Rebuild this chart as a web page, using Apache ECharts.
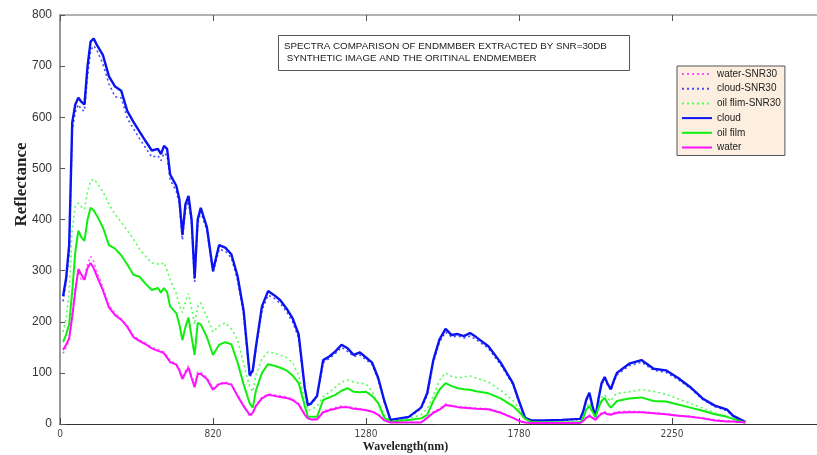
<!DOCTYPE html>
<html>
<head>
<meta charset="utf-8">
<script src="https://cdn.jsdelivr.net/npm/echarts@6/dist/echarts.min.js"></script>
<style>
html,body{margin:0;padding:0;background:#fff;overflow:hidden;}
#c{width:817px;height:455px;}
</style>
</head>
<body>
<div id="c"></div>
<script>
// band index (x) — axis ticks every 50 bands labelled with wavelength
var bands = [1,2,3,4,5,6,7,8,9,10,
11,12,14,16,18,20,22,24,26,28,
30,32,33,34,35,36,38,39,40,41,
42,43,44,45,46,48,50,52,54,56,
58,60,62,63,64,66,68,70,72,74,
76,78,80,81,82,84,86,88,90,92,
94,96,98,100,102,104,106,108,110,114,
118,120,122,124,126,128,130,132,134,136,
140,144,148,150,152,154,158,164,170,171,
172,173,174,175,176,177,178,179,180,181,
182,186,190,194,198,202,206,210,214,218,
220,222,224];

var xTickValues = [0, 50, 100, 150, 200];
var xTickLabels = ['0', '820', '1280', '1780', '2250'];

var cloud = [250,285,350,590,625,638,630,625,700,748,
754,742,722,680,660,652,612,591,572,553,
535,538,528,544,538,488,466,440,370,430,
446,400,285,400,423,385,300,350,345,332,
290,222,95,105,150,230,260,252,242,226,
207,175,70,37,40,55,125,132,142,155,
148,135,140,130,120,90,45,8,10,14,
32,60,125,165,186,174,176,172,178,170,
152,120,80,45,12,7,7,8,10,25,
48,61,35,14,50,80,92,78,68,85,
100,118,125,108,105,90,72,50,36,28,
16,10,4];

var cloudSNR30 = [240,278,335,575,610,625,615,612,680,730,
740,732,705,665,640,638,598,578,558,540,
522,525,515,530,525,478,455,430,360,420,
436,392,278,392,415,378,295,342,338,325,
282,215,92,102,145,222,252,246,236,220,
200,168,66,35,38,52,120,128,138,150,
142,132,135,126,116,86,42,7,9,13,
30,56,120,160,180,170,172,168,172,165,
148,116,77,42,11,6,6,7,9,23,
45,58,33,13,47,77,89,76,66,82,
96,114,121,105,101,87,70,48,34,26,
15,9,3];

var oilFilm = [160,175,195,260,337,378,365,358,400,423,
418,408,385,350,343,330,312,292,288,274,
262,266,257,266,258,230,217,195,164,190,
208,170,135,198,195,170,135,155,160,156,
121,78,40,32,65,100,117,114,110,105,
95,80,35,14,14,14,47,52,57,65,
70,63,62,63,55,41,12,4,6,8,
11,18,45,67,80,74,70,68,67,64,
60,50,35,24,10,4,3,3,3,12,
28,35,24,14,32,45,51,40,32,38,
45,50,52,45,44,38,32,26,19,14,
10,6,3];

var oilFilmSNR30 = [180,205,260,380,428,432,425,420,455,475,
479,472,455,430,410,395,378,362,342,328,
315,313,312,316,300,282,255,232,218,240,
255,225,195,230,237,210,180,192,198,186,
165,118,72,63,95,128,141,139,135,130,
120,95,45,27,28,35,53,62,72,82,
86,82,80,78,64,40,18,6,7,10,
18,30,55,85,100,93,90,92,94,90,
82,66,46,30,12,5,4,4,4,15,
32,41,30,18,40,52,57,50,45,55,
60,63,67,64,58,49,40,31,22,14,
10,6,3];

var water = [145,155,168,210,260,303,292,282,305,315,
305,290,262,228,213,204,190,170,162,156,
148,143,141,138,130,121,116,105,88,100,
110,90,72,98,98,88,67,78,80,77,
55,35,18,22,35,50,57,55,53,51,
47,38,18,11,9,9,23,27,30,33,
33,30,29,27,24,18,7,3,3,3,
3,12,22,28,37,35,33,32,31,30,
29,22,12,6,3,2,2,2,2,6,
12,16,12,8,15,20,22,19,18,20,
22,23,23,21,19,16,14,11,7,5,
5,4,3];

var waterSNR30 = [138,150,165,215,270,298,280,285,312,328,
318,298,268,232,216,206,192,173,164,158,
150,146,143,141,133,124,118,108,92,104,
114,95,75,102,101,91,70,80,82,78,
57,37,14,20,37,52,59,57,55,53,
49,40,20,12,10,10,25,29,32,35,
34,32,30,28,25,19,8,3,3,3,
4,13,24,30,39,36,34,33,32,31,
30,23,13,7,3,2,2,2,2,7,
13,18,13,9,16,22,24,21,20,22,
24,25,24,22,20,17,15,12,8,6,
5,4,3];

function pairs(vals){ return bands.map(function(b,i){ return [b, vals[i]]; }); }

var FONT = 'Liberation Sans, Arial, sans-serif';

function lineSeries(name, vals, color, width, type){
  return {
    name: name, type: 'line', data: pairs(vals),
    showSymbol: false, symbol: 'none', animation: false,
    lineStyle: { color: color, width: width, type: type },
    itemStyle: { color: color }
  };
}

var chart = echarts.init(document.getElementById('c'), null, {renderer: 'canvas'});
chart.setOption({
  animation: false,
  backgroundColor: '#ffffff',
  title: {
    text: 'SPECTRA COMPARISON OF ENDMMBER EXTRACTED BY SNR=30DB\n SYNTHETIC IMAGE AND THE ORITINAL ENDMEMBER',
    left: 278, top: 35,
    padding: [5, 23, 7, 6],
    backgroundColor: '#ffffff',
    borderColor: '#555555', borderWidth: 1,
    textStyle: { fontFamily: FONT, fontSize: 9.8, fontWeight: 'normal', color: '#222', lineHeight: 12 }
  },
  legend: {
    orient: 'vertical', left: 677, top: 66,
    backgroundColor: '#fdefdf', borderColor: '#555555', borderWidth: 1,
    padding: [3, 4, 3, 4],
    itemWidth: 30, itemHeight: 10, itemGap: 4.7,
    itemStyle: { opacity: 0 },
    textStyle: { fontFamily: FONT, fontSize: 10, color: '#222' },
    data: ['water-SNR30', 'cloud-SNR30', 'oil flim-SNR30', 'cloud', 'oil film', 'water']
  },
  grid: { left: 60, right: -8, top: 15, bottom: 31, containLabel: false, outerBoundsMode: 'none' },
  xAxis: [{
    type: 'value', min: 0, max: 250, interval: 50,
    name: 'Wavelength(nm)', nameLocation: 'middle', nameGap: 17, nameMoveOverlap: false,
    nameTextStyle: { fontFamily: 'Liberation Serif, Times New Roman, serif', fontWeight: 'bold', fontSize: 12, color: '#222', padding: [0, 74, 0, 0] },
    axisLine: { show: true, lineStyle: { color: '#333', width: 1 } },
    axisTick: { show: true, inside: true, length: 6, lineStyle: { color: '#444' } },
    axisLabel: {
      fontFamily: 'DejaVu Sans Condensed, DejaVu Sans, sans-serif', fontSize: 10, color: '#444', margin: 5,
      formatter: function(v){ var k = xTickValues.indexOf(v); return k >= 0 ? xTickLabels[k] : ''; }
    },
    splitLine: { show: false }
  }, {
    type: 'value', min: 0, max: 250, interval: 50, position: 'top',
    axisLine: { show: true, lineStyle: { color: '#999', width: 1.5 } },
    axisTick: { show: true, inside: true, length: 6, lineStyle: { color: '#555' } },
    axisLabel: { show: false }, splitLine: { show: false }
  }],
  yAxis: {
    type: 'value', min: 0, max: 800, interval: 100,
    name: 'Reflectance', nameLocation: 'middle', nameGap: 30, nameRotate: 90, nameMoveOverlap: false,
    nameTextStyle: { fontFamily: 'Liberation Serif, Times New Roman, serif', fontWeight: 'bold', fontSize: 17, color: '#222', padding: [0, 0, 0, 70] },
    axisLine: { show: true, lineStyle: { color: '#999', width: 2 } },
    axisTick: { show: true, inside: true, length: 5, lineStyle: { color: '#555' } },
    axisLabel: { fontFamily: FONT, fontSize: 12, color: '#333', margin: 8 },
    splitLine: { show: false }
  },
  series: [
    lineSeries('water-SNR30', waterSNR30, '#ff55ff', 1.6, [2, 3]),
    lineSeries('cloud-SNR30', cloudSNR30, '#4a4aff', 1.6, [2, 3]),
    lineSeries('oil flim-SNR30', oilFilmSNR30, '#55ff55', 1.6, [2, 3]),
    lineSeries('cloud', cloud, '#0a14f0', 2.4, 'solid'),
    lineSeries('oil film', oilFilm, '#10ee10', 2, 'solid'),
    lineSeries('water', water, '#ff10ff', 2, 'solid')
  ]
});
</script>
</body>
</html>
